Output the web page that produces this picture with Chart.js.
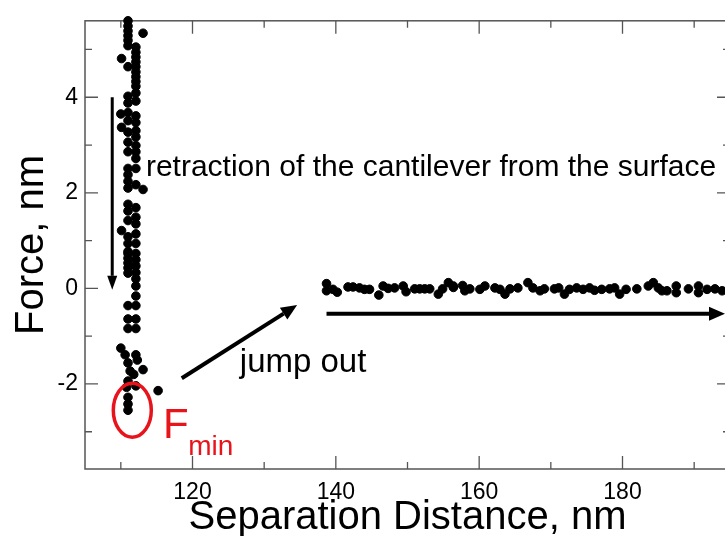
<!DOCTYPE html>
<html>
<head>
<meta charset="utf-8">
<script src="https://cdn.jsdelivr.net/npm/chart.js@4.4.1/dist/chart.umd.min.js"></script>
<style>
  html, body { margin: 0; padding: 0; background: #fff; overflow: hidden; }
  #wrap { width: 744px; height: 536px; }
</style>
</head>
<body>
<div id="wrap"><canvas id="myChart" width="744" height="536"></canvas></div>
<script>
// retraction branch (near the surface)
const retractX = [
  111.0, 111.0, 111.0, 111.0, 111.0, 111.0, 111.0, 111.0, 111.0, 111.0, 111.0, 111.0,
  111.0, 111.0, 111.0, 111.0, 111.0, 111.0, 111.0, 111.0, 111.0, 111.0, 111.0, 111.0,
  112.1, 112.1, 112.1, 112.1, 112.1, 112.1, 112.1, 112.1, 112.1, 112.1, 112.1, 112.1,
  112.1, 112.1, 112.1, 112.1, 112.1, 112.1, 112.1, 112.1, 112.1, 112.1, 112.1, 112.1, 112.1,
  113.1, 110.1, 110.0, 110.1, 113.1, 110.1,
  111.0, 111.0, 111.0, 111.0, 111.0, 111.0, 111.0, 111.0, 111.0, 111.0, 110.8, 111.0, 111.0, 111.0,
  112.1, 112.1, 112.1, 112.1, 112.1, 112.1, 112.1, 112.1, 112.1, 112.1, 112.1, 112.3, 112.1,
  110.0, 110.6, 111.3, 113.1, 115.2, 111.8
];
const retractY = [
  5.60, 5.49, 5.39, 5.29, 5.19, 5.08, 4.64, 4.02, 3.88, 3.68, 3.51, 3.27,
  3.06, 2.86, 2.51, 2.38, 2.24, 2.10, 1.76, 1.62, 1.42, 1.08, 0.94, 0.77,
  5.05, 4.94, 4.84, 4.74, 4.64, 4.53, 4.43, 4.33, 4.23, 4.09, 3.92, 3.61,
  3.47, 3.30, 3.17, 2.99, 2.86, 2.72, 2.51, 2.17, 1.69, 1.49, 1.35, 1.14, 0.94,
  5.34, 4.81, 3.65, 3.37, 2.07, 1.21,
  0.73, 0.63, 0.53, 0.43, 0.32, -0.36, -0.64, -0.84, -1.56, -1.94, -2.07, -2.28, -2.42, -2.55,
  0.73, 0.60, 0.47, 0.33, 0.20, 0.05, -0.16, -0.36, -0.64, -0.84, -1.39, -1.50, -2.04,
  -1.25, -1.39, -1.73, -1.70, -2.14, -1.80
];

// flat branch after the jump out
const flatX = [
  138.7, 138.7, 139.6, 140.2, 141.7, 142.4, 143.3, 144.0, 144.7, 146.0, 146.6, 147.3,
  148.2, 149.4, 149.8, 151.0, 151.7, 152.4, 153.1, 154.3, 154.9, 155.7, 156.4, 156.4,
  157.7, 158.0, 158.7, 160.1, 160.8, 162.2, 162.9, 163.6, 164.3, 165.4, 166.8, 167.5,
  168.5, 169.1, 170.5, 171.1, 171.9, 172.6, 173.6, 174.5, 175.4, 176.1, 177.1, 178.2,
  178.9, 179.6, 180.5, 182.0, 183.6, 184.3, 185.0, 185.5, 186.2, 187.5, 187.5, 189.2,
  190.6, 190.6, 191.8, 192.9, 193.9
];
const flatY = [
  0.10, -0.05, -0.02, -0.08, 0.03, 0.03, 0.01, -0.02, -0.02, -0.14, 0.05, 0.00,
  0.01, 0.05, -0.07, -0.01, -0.01, -0.01, -0.01, -0.12, -0.01, 0.12, 0.05, 0.02,
  0.06, -0.05, -0.01, -0.02, 0.05, 0.01, -0.02, -0.12, -0.01, 0.01, 0.12, 0.01,
  -0.05, -0.01, -0.01, 0.01, -0.12, -0.02, 0.01, -0.02, 0.01, -0.04, -0.02, -0.01,
  0.01, -0.12, -0.02, -0.01, 0.05, 0.12, 0.01, -0.05, -0.05, 0.05, -0.09, -0.01,
  0.05, -0.09, -0.02, -0.01, -0.05
];

// tick positions (labels only on every other one)
const xTicks = [110, 120, 130, 140, 150, 160, 170, 180, 190];
const xTickLabels = ['', '120', '', '140', '', '160', '', '180', ''];
const yTicks = [-3, -2, -1, 0, 1, 2, 3, 4, 5];
const yTickLabels = ['', '-2', '', '0', '', '2', '', '4', ''];

const xLabel = 'Separation Distance, nm';
const yLabel = 'Force, nm';
const retractText = 'retraction of the cantilever from the surface';
const jumpText = 'jump out';

const FONT = '"Liberation Sans", Arial, sans-serif';

function toPoints(xs, ys) {
  return xs.map((x, i) => ({ x: x, y: ys[i] }));
}

function arrow(ctx, x1, y1, x2, y2, w, head, half) {
  const a = Math.atan2(y2 - y1, x2 - x1);
  const bx = x2 - head * Math.cos(a), by = y2 - head * Math.sin(a);
  ctx.lineWidth = w;
  ctx.beginPath();
  ctx.moveTo(x1, y1);
  ctx.lineTo(bx, by);
  ctx.stroke();
  ctx.beginPath();
  ctx.moveTo(x2, y2);
  ctx.lineTo(bx + half * Math.sin(a), by - half * Math.cos(a));
  ctx.lineTo(bx - half * Math.sin(a), by + half * Math.cos(a));
  ctx.closePath();
  ctx.fill();
}

// box around the plot with inward ticks on all four sides
const framePlugin = {
  id: 'frame',
  beforeDatasetsDraw(chart) {
    const ctx = chart.ctx;
    const a = chart.chartArea;
    const xs = chart.scales.x, ys = chart.scales.y;
    ctx.save();
    ctx.strokeStyle = '#555';
    ctx.lineWidth = 1.5;
    ctx.strokeRect(a.left, a.top, a.right - a.left, a.bottom - a.top);
    ctx.lineWidth = 1.3;
    ctx.beginPath();
    xTicks.forEach((v, i) => {
      const len = xTickLabels[i] ? 13 : 7;
      const px = xs.getPixelForValue(v);
      ctx.moveTo(px, a.bottom); ctx.lineTo(px, a.bottom - len);
      ctx.moveTo(px, a.top); ctx.lineTo(px, a.top + len);
    });
    yTicks.forEach((v, i) => {
      const len = yTickLabels[i] ? 13 : 7;
      const py = ys.getPixelForValue(v);
      ctx.moveTo(a.left, py); ctx.lineTo(a.left + len, py);
      ctx.moveTo(a.right, py); ctx.lineTo(a.right - len, py);
    });
    ctx.stroke();
    ctx.restore();
  }
};

// arrows, labels and the F_min marker
const notesPlugin = {
  id: 'notes',
  afterDatasetsDraw(chart) {
    const ctx = chart.ctx;
    const X = v => chart.scales.x.getPixelForValue(v);
    const Y = v => chart.scales.y.getPixelForValue(v);
    ctx.save();
    ctx.fillStyle = '#000';
    ctx.strokeStyle = '#000';
    ctx.lineCap = 'butt';

    arrow(ctx, X(108.8), Y(4.0), X(108.8), Y(-0.03), 3, 14, 5);
    arrow(ctx, X(118.5), Y(-1.88), X(134.6), Y(-0.35), 4, 16, 7);
    arrow(ctx, X(138.7), Y(-0.53), X(194.3), Y(-0.53), 4, 16, 7);

    ctx.textBaseline = 'middle';
    ctx.textAlign = 'left';
    ctx.font = '30px ' + FONT;
    ctx.fillText(retractText, X(113.5), Y(2.52));
    ctx.font = '33px ' + FONT;
    ctx.fillText(jumpText, X(126.6), Y(-1.55));

    ctx.strokeStyle = '#e8141b';
    ctx.fillStyle = '#e8141b';
    ctx.lineWidth = 3.5;
    ctx.beginPath();
    ctx.ellipse(X(111.6), Y(-2.55), 19, 27, 0, 0, Math.PI * 2);
    ctx.stroke();

    ctx.textBaseline = 'alphabetic';
    ctx.font = '42px ' + FONT;
    ctx.fillText('F', X(115.9), Y(-3.13));
    ctx.font = '28px ' + FONT;
    ctx.fillText('min', X(119.4), Y(-3.48));
    ctx.restore();
  }
};

const data = {
  datasets: [{
    label: 'retraction',
    data: toPoints(retractX, retractY),
    backgroundColor: '#000',
    borderColor: '#000',
    pointRadius: 4.3,
    pointHoverRadius: 4.3,
    showLine: false,
    clip: false
  }, {
    label: 'after jump',
    data: toPoints(flatX, flatY),
    backgroundColor: '#000',
    borderColor: '#000',
    pointRadius: 4.3,
    pointHoverRadius: 4.3,
    showLine: false,
    clip: false
  }]
};

const config = {
  type: 'scatter',
  data: data,
  plugins: [framePlugin, notesPlugin],
  options: {
    responsive: false,
    animation: false,
    devicePixelRatio: 1,
    layout: { padding: { top: 13, right: 14, left: 0, bottom: 0 } },
    plugins: { legend: { display: false }, tooltip: { enabled: false } },
    scales: {
      x: {
        type: 'linear',
        min: 105,
        max: 195,
        border: { display: false },
        grid: { display: false, drawTicks: false },
        afterBuildTicks: s => { s.ticks = xTicks.map(v => ({ value: v })); },
        ticks: {
          autoSkip: false,
          maxRotation: 0,
          padding: 10,
          color: '#000',
          font: { family: FONT, size: 23 },
          callback: (v, i) => xTickLabels[i]
        },
        title: {
          display: true,
          text: xLabel,
          color: '#000',
          font: { family: FONT, size: 40, lineHeight: 0.9 },
          padding: { top: 0, bottom: 0 }
        },
        afterFit: s => { s.height = 67; }
      },
      y: {
        type: 'linear',
        min: -3.78,
        max: 5.6,
        border: { display: false },
        grid: { display: false, drawTicks: false },
        afterBuildTicks: s => { s.ticks = yTicks.map(v => ({ value: v })); },
        ticks: {
          autoSkip: false,
          padding: 7,
          color: '#000',
          font: { family: FONT, size: 23 },
          callback: (v, i) => yTickLabels[i]
        },
        title: {
          display: true,
          text: yLabel,
          color: '#000',
          font: { family: FONT, size: 40, lineHeight: 1 },
          padding: { top: 12, bottom: 0 }
        },
        afterFit: s => { s.width = 85; }
      }
    }
  }
};

const myChart = new Chart(document.getElementById('myChart'), config);
</script>
</body>
</html>
